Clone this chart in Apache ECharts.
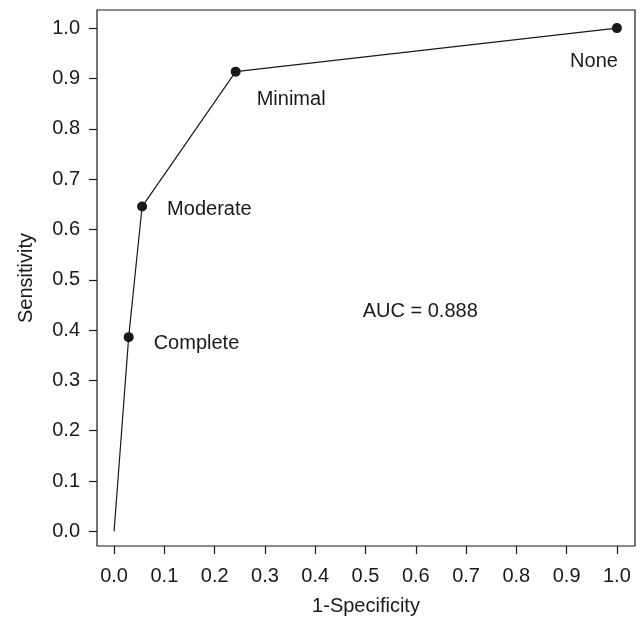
<!DOCTYPE html>
<html>
<head>
<meta charset="utf-8">
<script src="https://cdn.jsdelivr.net/npm/echarts@6/dist/echarts.min.js"></script>
<style>
html,body{margin:0;padding:0;background:#fff;}
#chart{width:641px;height:621px;}
</style>
</head>
<body>
<div id="chart"></div>
<script>
// ---- data ----
const fpr = [0, 0.029, 0.0557, 0.2418, 1.0];          // 1-Specificity
const tpr = [0, 0.386, 0.6455, 0.9135, 1.0];          // Sensitivity
const cutLabels = ['', 'Complete', 'Moderate', 'Minimal', 'None'];
const xTicks = [0, 0.1, 0.2, 0.3, 0.4, 0.5, 0.6, 0.7, 0.8, 0.9, 1.0];
const yTicks = [0, 0.1, 0.2, 0.3, 0.4, 0.5, 0.6, 0.7, 0.8, 0.9, 1.0];
const xTitle = '1-Specificity';
const yTitle = 'Sensitivity';
const aucText = 'AUC = 0.888';

// ---- styling / layout ----
const FONT = "'Liberation Sans', Arial, Helvetica, sans-serif";
const TXT = '#1a1a1a';
const FS = 20;
// label placement relative to each marker (pixels): [dx, dy, align]
const labelPlace = {
  'Complete': [25, 6, 'left'],
  'Moderate': [25, 3, 'left'],
  'Minimal':  [21, 28, 'left'],
  'None':     [1, 33, 'right']
};

const linePts = fpr.map((x, i) => [x, tpr[i]]);
const markerPts = [];
for (let i = 0; i < fpr.length; i++) {
  if (!cutLabels[i]) continue;
  const p = labelPlace[cutLabels[i]];
  markerPts.push({
    value: [fpr[i], tpr[i]],
    name: cutLabels[i],
    label: {
      show: true,
      formatter: cutLabels[i],
      position: 'inside',
      offset: [p[0], p[1]],
      align: p[2],
      verticalAlign: 'middle',
      color: TXT,
      fontSize: FS,
      fontFamily: FONT
    }
  });
}

const chart = echarts.init(document.getElementById('chart'), null, {renderer: 'canvas'});
chart.setOption({
  backgroundColor: '#fff',
  animation: false,
  grid: {
    left: 97, right: 6, top: 10, bottom: 73,
    show: true, borderColor: '#1a1a1a', borderWidth: 1.2, backgroundColor: 'transparent'
  },
  xAxis: {
    type: 'value',
    min: -0.034, max: 1.036,
    name: xTitle,
    nameLocation: 'middle',
    nameGap: 50,
    nameTextStyle: {color: TXT, fontSize: FS, fontFamily: FONT},
    axisLine: {show: false, onZero: false},
    splitLine: {show: false},
    axisTick: {show: true, inside: false, length: 8, lineStyle: {color: '#1a1a1a', width: 1.2}, customValues: xTicks},
    axisLabel: {
      color: TXT, fontSize: FS, fontFamily: FONT, margin: 20,
      customValues: xTicks,
      formatter: v => v.toFixed(1)
    }
  },
  yAxis: {
    type: 'value',
    min: -0.029, max: 1.036,
    name: yTitle,
    nameLocation: 'middle',
    nameGap: 61,
    nameTextStyle: {color: TXT, fontSize: FS, fontFamily: FONT},
    axisLine: {show: false, onZero: false},
    splitLine: {show: false},
    axisTick: {show: true, inside: false, length: 8, lineStyle: {color: '#1a1a1a', width: 1.2}, customValues: yTicks},
    axisLabel: {
      color: TXT, fontSize: FS, fontFamily: FONT, margin: 17,
      customValues: yTicks,
      formatter: v => v.toFixed(1)
    }
  },
  graphic: [{
    type: 'text',
    x: 362.7, y: 311,
    style: {text: aucText, fill: TXT, fontSize: FS, fontFamily: FONT, textAlign: 'left', textVerticalAlign: 'middle'}
  }],
  series: [
    {
      type: 'line',
      data: linePts,
      showSymbol: false,
      symbol: 'none',
      lineStyle: {color: '#1a1a1a', width: 1.2},
      silent: true
    },
    {
      type: 'scatter',
      data: markerPts,
      symbol: 'circle',
      symbolSize: 10,
      itemStyle: {color: '#1a1a1a', opacity: 1},
      silent: true
    }
  ]
});
</script>
</body>
</html>
